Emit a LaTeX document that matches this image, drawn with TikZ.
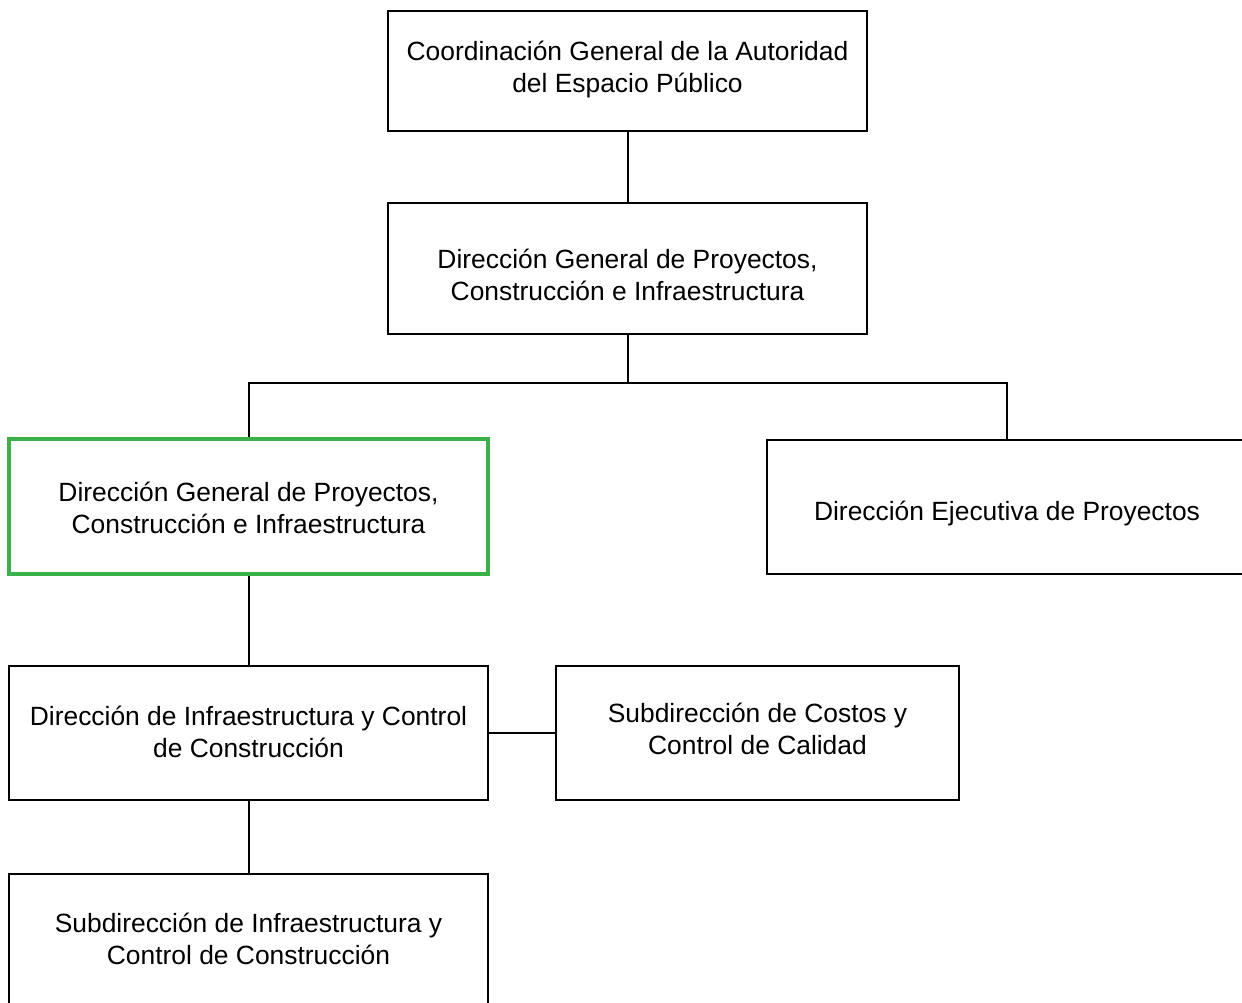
\documentclass[tikz,border=0pt]{standalone}
\usepackage{fontspec}
\setmainfont{Liberation Sans}
\definecolor{boxgreen}{RGB}{59,178,72}
\newcommand\boxtext[2]{\raisebox{#1}[\height][\depth]{\begin{tabular}{@{}c@{}}#2\end{tabular}}}
\begin{document}
\begin{tikzpicture}[x=1pt,y=-1pt,
  box/.style={draw=black,line width=2pt,rectangle,align=center,inner sep=0pt,
    font=\fontsize{26.4}{31.7}\selectfont,text=black},
  conn/.style={draw=black,line width=2pt}]
\useasboundingbox (0,0) rectangle (1242,1003);
\clip (0,0) rectangle (1242,1003);
\node[box,minimum width=479pt,minimum height=120pt] (coord) at (627.5,71) {\boxtext{1pt}{Coordinación General de la Autoridad\\del Espacio Público}};
\node[box,minimum width=479pt,minimum height=131pt] (dgp) at (627.5,268.5) {\boxtext{-9.5pt}{Dirección General de Proyectos,\\Construcción e Infraestructura}};
\node[box,draw=boxgreen,line width=4pt,minimum width=479pt,minimum height=135pt] (dgp2) at (248.5,506.5) {\boxtext{-5pt}{Dirección General de Proyectos,\\Construcción e Infraestructura}};
\node[box,minimum width=480pt,minimum height=134pt] (dep) at (1007,507) {\boxtext{-7pt}{Dirección Ejecutiva de Proyectos}};
\node[box,minimum width=479pt,minimum height=134pt] (dic) at (248.5,733) {\boxtext{-2pt}{Dirección de Infraestructura y Control\\de Construcción}};
\node[box,minimum width=403pt,minimum height=134pt] (scc) at (757.5,733) {\boxtext{0.5pt}{Subdirección de Costos y\\Control de Calidad}};
\node[box,minimum width=479pt,minimum height=134pt] (sic) at (248.5,941) {\boxtext{-1.5pt}{Subdirección de Infraestructura y\\Control de Construcción}};
\coordinate (j) at (627.5,383);
\draw[conn] (coord.south) -- (dgp.north);
\draw[conn] (dgp.south) -- (j);
\draw[conn] (dgp2.north) |- (j) -| (dep.north);
\draw[conn] (dgp2.south) -- (dic.north);
\draw[conn] (dic.east) -- (scc.west);
\draw[conn] (dic.south) -- (sic.north);
\end{tikzpicture}
\end{document}
